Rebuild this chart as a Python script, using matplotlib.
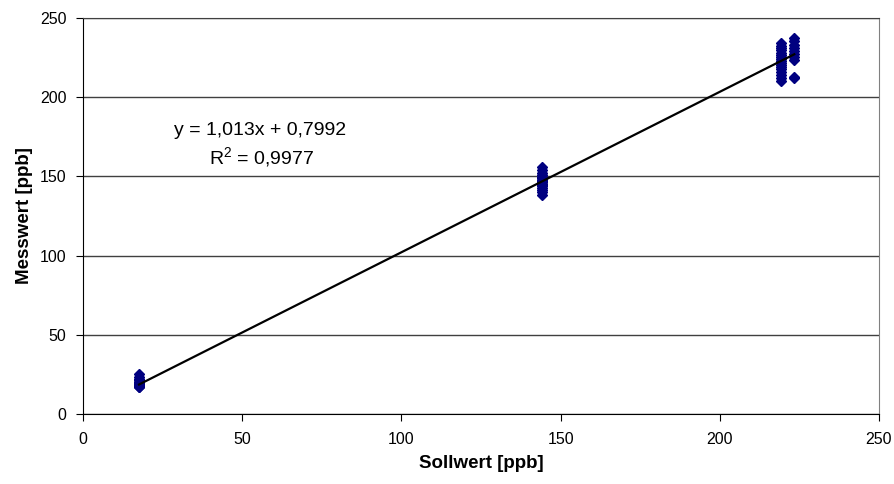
import numpy as np
import matplotlib
matplotlib.use("Agg")
import matplotlib.pyplot as plt

plt.rcParams['font.family'] = ['Liberation Sans', 'DejaVu Sans']
plt.rcParams['mathtext.fontset'] = 'custom'
plt.rcParams['mathtext.rm'] = 'Liberation Sans'
plt.rcParams['mathtext.default'] = 'regular'

soll_1 = 17.6
mess_1 = [25.1, 23.4, 22.0, 21.3, 20.5, 19.8, 19.2, 18.7, 18.1, 17.6, 17.2, 16.9, 20.1, 19.5, 18.4]
soll_2 = 144.3
mess_2 = [156.2, 154.0, 152.1, 150.8, 149.5, 148.7, 147.9, 147.0, 146.2, 145.5, 144.8,
          143.9, 142.8, 141.5, 140.1, 138.2, 149.1, 146.6]
soll_3 = 219.2
mess_3 = [234.0, 232.5, 231.0, 229.6, 228.1, 226.9, 225.5, 224.3, 223.0, 221.8, 220.4,
          219.0, 217.6, 216.0, 214.2, 212.1, 210.5]
soll_4 = 223.4
mess_4 = [237.3, 235.2, 233.1, 231.2, 229.4, 227.5, 225.3, 223.6, 212.8, 212.0]

slope = 1.013
intercept = 0.7992
eq_text = "y = 1,013x + 0,7992"
r2_text = "R$^2$ = 0,9977"

x = np.concatenate([[soll_1] * len(mess_1), [soll_2] * len(mess_2),
                    [soll_3] * len(mess_3), [soll_4] * len(mess_4)])
y = np.concatenate([mess_1, mess_2, mess_3, mess_4])

fig = plt.figure(figsize=(8.94, 4.84), dpi=100)
ax = fig.add_axes([0.0928, 0.1446, 0.8904, 0.8182])

ax.set_axisbelow(True)
ax.yaxis.grid(True, color='#404040', linewidth=1.0)

ax.plot(x, y, linestyle='none', marker='D', markersize=4.8, color='#000080')

# linear trendline over the data range
xl = np.array([x.min(), x.max()])
ax.plot(xl, slope * xl + intercept, color='black', linewidth=1.6)

ax.text(55.5, 179, eq_text, ha='center', va='center', fontsize=14)
ax.text(56, 162, r2_text, ha='center', va='center', fontsize=14)

ax.set_xlim(0, 250)
ax.set_ylim(0, 250)
ax.set_xticks(np.arange(0, 251, 50))
ax.set_yticks(np.arange(0, 251, 50))
ax.tick_params(labelsize=11.5, direction='out', length=5, color='black')
ax.tick_params(axis='x', pad=8)
ax.tick_params(axis='y', pad=7)

for s in ['top', 'right']:
    ax.spines[s].set_color('#808080')
ax.spines['top'].set_color('#404040')
for s in ['left', 'bottom']:
    ax.spines[s].set_color('black')

ax.set_xlabel("Sollwert [ppb]", fontsize=13.5, fontweight='bold', labelpad=6)
ax.set_ylabel("Messwert [ppb]", fontsize=13.5, fontweight='bold', labelpad=5)

fig.savefig("out.png", dpi=100)
